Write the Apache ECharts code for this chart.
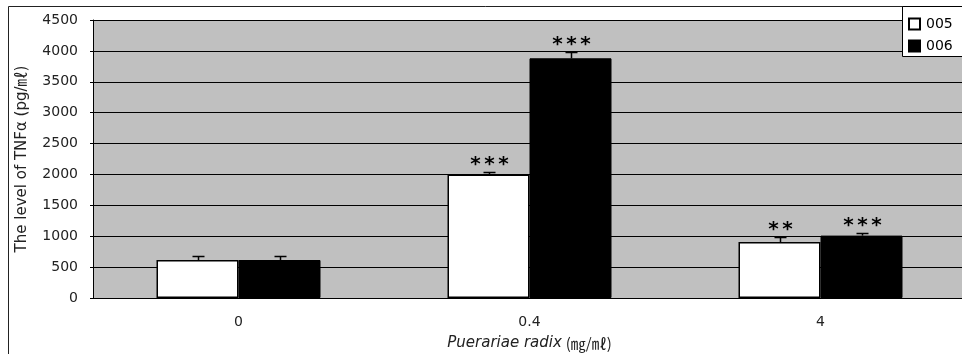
<!DOCTYPE html>
<html>
<head>
<meta charset="utf-8">
<style>
  html, body { margin: 0; padding: 0; background: #fff; }
  #chart { width: 962px; height: 354px; }
</style>
<script src="https://cdn.jsdelivr.net/npm/echarts@6/dist/echarts.min.js"></script>
</head>
<body>
<div id="chart"></div>
<script>
// Pueraria radix concentrations (mg/mL)
const doses = ['0', '0.4', '4'];
const yTicks = [0, 500, 1000, 1500, 2000, 2500, 3000, 3500, 4000, 4500];

// TNF-alpha (pg/mL), mean and error per dose
const tnf005 = [615, 2000, 905];
const err005 = [70, 45, 80];
const sig005 = ['', '***', '**'];

const tnf006 = [615, 3880, 1010];
const err006 = [65, 95, 50];
const sig006 = ['', '***', '***'];

const seriesNames = ['005', '006'];

const BAR_W = 82;
const STAR_STEP = 14;
const FONT = '"DejaVu Sans", "Noto Sans CJK KR", sans-serif';
const TEXT_COLOR = '#222';

function errorData(vals, errs, sigs) {
  return vals.map((v, i) => [i, v, errs[i], sigs[i]]);
}

function errorRenderer(offset) {
  return function (params, api) {
    const i = api.value(0);
    const v = api.value(1);
    const e = api.value(2);
    const sig = api.value(3);
    const base = api.coord([i, v]);
    const top = api.coord([i, v + e]);
    const x = Math.round(base[0] + offset) + 0.5;
    const yt = Math.round(top[1]) + 0.5;
    const children = [
      { type: 'line', shape: { x1: x, y1: base[1], x2: x, y2: yt },
        style: { stroke: '#000', lineWidth: 1.5 } },
      { type: 'line', shape: { x1: x - 6, y1: yt, x2: x + 6, y2: yt },
        style: { stroke: '#000', lineWidth: 1.5 } }
    ];
    // significance stars, one glyph each, evenly spaced
    const n = sig ? sig.length : 0;
    for (let k = 0; k < n; k++) {
      children.push({
        type: 'text',
        style: {
          text: '*',
          x: x + (k - (n - 1) / 2) * STAR_STEP,
          y: yt - 8,
          align: 'center', verticalAlign: 'middle',
          font: 'bold 20px "DejaVu Sans", sans-serif',
          fill: '#000'
        }
      });
    }
    return { type: 'group', children: children };
  };
}

const chart = echarts.init(document.getElementById('chart'), null, { renderer: 'canvas' });

chart.setOption({
  animation: false,
  backgroundColor: '#fff',
  textStyle: { fontFamily: FONT },
  grid: {
    left: 93, top: 20, width: 873, height: 278,
    outerBoundsMode: 'none',
    containLabel: false,
    show: true, backgroundColor: '#c0c0c0', borderWidth: 0
  },
  graphic: [
    { type: 'rect', z: 100, silent: true,
      shape: { x: 8.5, y: 6.5, width: 1000, height: 400 },
      style: { fill: 'none', stroke: '#222', lineWidth: 1 } },
    { type: 'rect', z: 101, silent: true,
      shape: { x: 902.5, y: 6.5, width: 80, height: 50 },
      style: { fill: '#fff', stroke: '#000', lineWidth: 1 } }
  ],
  legend: {
    data: seriesNames,
    orient: 'vertical',
    left: 908, top: 17,
    z: 110,
    itemWidth: 11, itemHeight: 11,
    itemGap: 8,
    icon: 'rect',
    padding: 0,
    textStyle: { fontSize: 14, color: '#000', fontFamily: FONT, padding: [0, 0, 0, 1] }
  },
  xAxis: {
    type: 'category',
    data: doses,
    axisLine: { lineStyle: { color: '#000', width: 1 } },
    axisTick: { show: false },
    axisLabel: { fontSize: 14, color: TEXT_COLOR, margin: 17, fontFamily: FONT },
    name: '{i|Puerariae radix} {u|(㎎/㎖)}',
    nameLocation: 'middle',
    nameGap: 38,
    nameTextStyle: {
      rich: {
        i: { fontSize: 15, fontStyle: 'italic', color: TEXT_COLOR, fontFamily: FONT },
        u: { fontSize: 15, color: TEXT_COLOR, fontFamily: '"Noto Sans CJK KR", sans-serif' }
      }
    }
  },
  yAxis: {
    type: 'value',
    min: yTicks[0],
    max: yTicks[yTicks.length - 1],
    interval: yTicks[1] - yTicks[0],
    axisLine: { show: true, lineStyle: { color: '#000', width: 1 } },
    axisTick: { show: true, length: 3, lineStyle: { color: '#000' } },
    splitLine: { show: true, lineStyle: { color: '#000', width: 1 } },
    axisLabel: {
      fontSize: 14, color: TEXT_COLOR, margin: 15, fontFamily: FONT,
      formatter: (v) => String(v)
    },
    name: 'The level of TNFα (pg/㎖)',
    nameLocation: 'middle',
    nameGap: 63,
    nameTextStyle: { fontSize: 15, color: TEXT_COLOR, fontFamily: FONT }
  },
  series: [
    {
      name: seriesNames[0], type: 'bar', data: tnf005,
      barWidth: BAR_W, barGap: '0%',
      itemStyle: { color: '#fff', borderColor: '#000', borderWidth: 1.5 }
    },
    {
      name: seriesNames[1], type: 'bar', data: tnf006,
      barWidth: BAR_W, barGap: '0%',
      itemStyle: { color: '#000', borderColor: '#000', borderWidth: 1 }
    },
    {
      type: 'custom', renderItem: errorRenderer(-BAR_W / 2),
      data: errorData(tnf005, err005, sig005), z: 5,
      encode: { x: 0, y: 1 }
    },
    {
      type: 'custom', renderItem: errorRenderer(BAR_W / 2),
      data: errorData(tnf006, err006, sig006), z: 5,
      encode: { x: 0, y: 1 }
    }
  ]
});
</script>
</body>
</html>
